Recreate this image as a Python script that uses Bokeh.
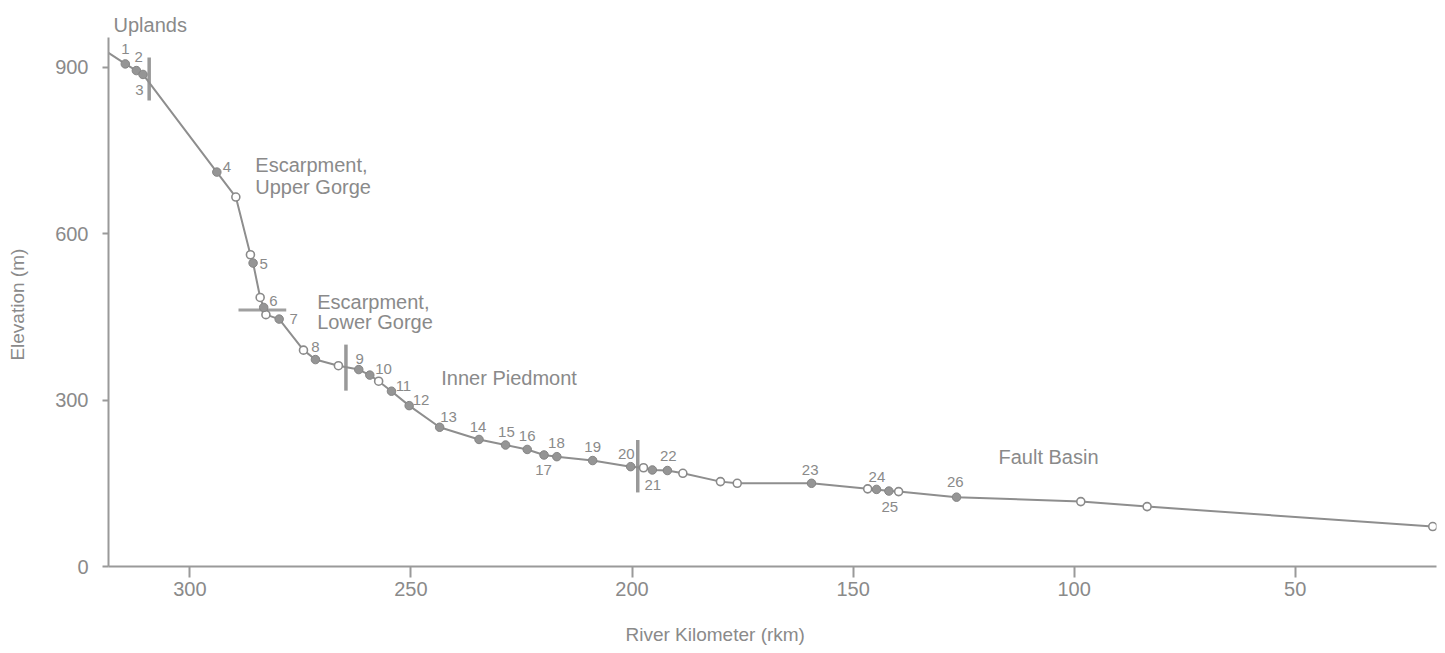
from bokeh.plotting import figure
from bokeh.models import Range1d, FixedTicker, Label, LabelSet, ColumnDataSource, Title
from bokeh.core.properties import value
from bokeh.embed import file_html
from bokeh.resources import INLINE

# ---- data: river profile (river km, elevation m) ----
rkm = [318.4, 314.6, 312.1, 310.6, 293.9, 289.6, 286.3, 285.7, 284.1, 283.3,
       282.8, 279.8, 274.3, 271.6, 266.4, 261.8, 259.3, 257.3, 254.4, 250.4,
       243.5, 234.6, 228.6, 223.7, 219.9, 217.0, 208.9, 200.3, 197.4, 195.4,
       192.0, 188.5, 180.0, 176.2, 159.4, 146.7, 144.7, 141.9, 139.7, 126.6,
       98.5, 83.5, 18.9]
elev = [926, 906, 894, 887, 711, 666, 562, 547, 485, 467,
        454, 446, 390, 373, 362, 355, 345, 334, 316, 290,
        251, 229, 219, 211, 201, 198, 191, 180, 178, 174,
        173, 168, 153, 150, 150, 140, 139, 136, 135, 125,
        117, 108, 72]
kind = ["none", "site", "site", "site", "site", "open", "open", "site", "open", "site",
        "open", "site", "open", "site", "open", "site", "site", "open", "site", "site",
        "site", "site", "site", "site", "site", "site", "site", "site", "open", "site",
        "site", "open", "open", "open", "site", "open", "site", "site", "open", "site",
        "open", "open", "open"]

# site number labels (anchor in data units)
site_ids = [str(i) for i in range(1, 27)]
site_lab_rkm = [314.6, 311.6, 311.4, 291.6, 283.3, 281.1, 276.5, 271.6, 261.6, 256.2,
                251.7, 247.7, 241.5, 234.8, 228.4, 223.7, 220.0, 217.1, 208.9, 201.3,
                195.3, 191.8, 159.7, 144.6, 141.7, 126.9]
site_lab_elev = [933, 918, 859, 720, 546, 479, 446, 396, 374, 356,
                 326, 301, 270, 251, 243, 235, 174, 223, 216, 203,
                 147, 200, 174, 161, 108, 152]

# physiographic boundaries
vbound_rkm = [309.2, 264.7, 198.7]
vbound_lo = [840, 317, 133.5]
vbound_hi = [917.6, 400, 228]
hbound_elev = [462.5]
hbound_r0 = [289.0]
hbound_r1 = [278.2]

# region names
region_text = ["Escarpment,", "Upper Gorge", "Escarpment,", "Lower Gorge",
               "Inner Piedmont", "Fault Basin"]
region_rkm = [285.2, 285.2, 271.2, 271.2, 227.8, 105.8]
region_elev = [723, 684, 476, 440, 340, 198]
region_align = ["left", "left", "left", "left", "center", "center"]
top_region = "Uplands"

x_ticks = [300, 250, 200, 150, 100, 50]
y_ticks = [0, 300, 600, 900]
x_title = "River Kilometer  (rkm)"
y_title = "Elevation  (m)"

FONT = "Liberation Sans"
TXT = "#8a8a8a"
LINE = "#8e8e8e"

p = figure(width=1444, height=653, x_range=Range1d(318.4, 18.05), y_range=Range1d(0, 953.6),
           output_backend="svg", toolbar_location=None, title=None,
           min_border_left=108, min_border_right=8, min_border_top=37, min_border_bottom=87)
p.outline_line_color = None
p.xgrid.grid_line_color = None
p.ygrid.grid_line_color = None
p.background_fill_color = "white"
p.border_fill_color = "white"

for ax, ticks in ((p.xaxis[0], x_ticks), (p.yaxis[0], y_ticks)):
    ax.ticker = FixedTicker(ticks=ticks)
    ax.minor_tick_line_color = None
    ax.axis_line_color = "#9a9a9a"
    ax.axis_line_width = 2
    ax.major_tick_line_color = "#9a9a9a"
    ax.major_tick_line_width = 2
    ax.major_tick_in = 0
    ax.major_label_text_font = FONT
    ax.major_label_text_font_size = "20px"
    ax.major_label_text_color = TXT
p.xaxis.major_tick_out = 11
p.xaxis.major_label_standoff = 4
p.yaxis.major_tick_out = 6
p.yaxis.major_label_standoff = 14

p.yaxis.axis_label = y_title
p.yaxis.axis_label_text_font = FONT
p.yaxis.axis_label_text_font_size = "19px"
p.yaxis.axis_label_text_font_style = "normal"
p.yaxis.axis_label_text_color = TXT
p.yaxis.axis_label_standoff = 24

# boundaries
p.segment(x0=vbound_rkm, y0=vbound_lo, x1=vbound_rkm, y1=vbound_hi,
          line_color="#999999", line_width=3.5)
p.segment(x0=hbound_r0, y0=hbound_elev, x1=hbound_r1, y1=hbound_elev,
          line_color="#a0a0a0", line_width=3)

# profile line
p.line(rkm, elev, line_color=LINE, line_width=2)

site_x = [r for r, k in zip(rkm, kind) if k == "site"]
site_y = [e for e, k in zip(elev, kind) if k == "site"]
open_x = [r for r, k in zip(rkm, kind) if k == "open"]
open_y = [e for e, k in zip(elev, kind) if k == "open"]
p.scatter(open_x, open_y, size=8, marker="circle", fill_color="white",
          line_color="#8a8a8a", line_width=1.6)
p.scatter(site_x, site_y, size=8.5, marker="circle", fill_color="#959595",
          line_color="#858585", line_width=1)

lab_src = ColumnDataSource(dict(x=site_lab_rkm, y=site_lab_elev, t=site_ids))
p.add_layout(LabelSet(x="x", y="y", text="t", source=lab_src, text_align="center",
                      text_baseline="middle", text_font=value(FONT),
                      text_font_size="15px", text_color=TXT))

for t, r, e, a in zip(region_text, region_rkm, region_elev, region_align):
    p.add_layout(Label(x=r, y=e, text=t, text_align=a, text_baseline="middle",
                       text_font=FONT, text_font_size="20px", text_color=TXT))

# "Uplands" above the frame, x-axis title below the axis
p.add_layout(Title(text=top_region, align="left", offset=5, standoff=3,
                   text_font=FONT, text_font_size="20px", text_font_style="normal",
                   text_color=TXT), "above")
p.add_layout(Title(text="\n" + x_title, align="left", offset=517, standoff=0,
                   vertical_align="bottom", text_line_height=1.15,
                   text_font=FONT, text_font_size="19px", text_font_style="normal",
                   text_color=TXT), "below")

open("out.html", "w").write(file_html(p, INLINE))
